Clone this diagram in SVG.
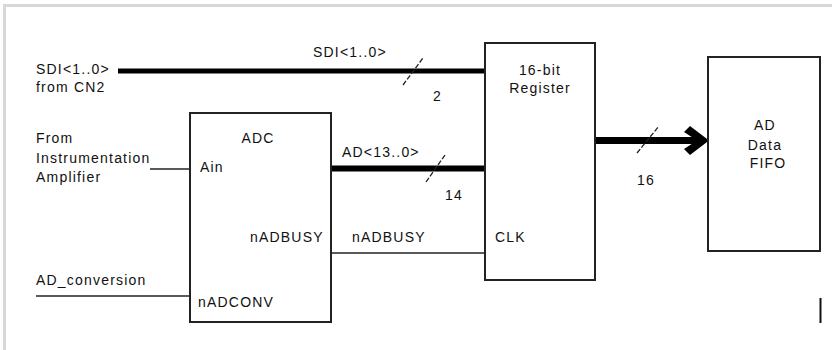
<svg xmlns="http://www.w3.org/2000/svg" width="832" height="350" viewBox="0 0 832 350">
<style>
text{font-family:"Liberation Sans",Arial,sans-serif;font-size:14px;letter-spacing:1.2px;fill:#111}
.c{text-anchor:middle}
.box{fill:#fff;stroke:#222;stroke-width:2}
.w{stroke:#222;stroke-width:1.6;fill:none}
.bus{stroke:#000;fill:none}
.sl{stroke:#222;stroke-width:1.3;stroke-dasharray:5 2;fill:none}
</style>
<rect x="0" y="0" width="832" height="350" fill="#fff"/>
<path d="M4.5 350V5.5H832" fill="none" stroke="#d8d8d8" stroke-width="3"/>
<g id="connectors">
<line class="bus" x1="118" y1="71" x2="485" y2="71" stroke-width="5"/>
<line class="sl" x1="403" y1="85" x2="423" y2="58"/>
<text x="313" y="57">SDI&lt;1..0&gt;</text>
<text x="433" y="101">2</text>
<line class="w" x1="150" y1="169" x2="190" y2="169"/>
<line class="w" x1="36" y1="296" x2="190" y2="296"/>
<line class="bus" x1="331" y1="168.5" x2="485" y2="168.5" stroke-width="6"/>
<line class="sl" x1="426" y1="182" x2="445" y2="155"/>
<text x="342" y="157">AD&lt;13..0&gt;</text>
<text x="445" y="200">14</text>
<line class="w" x1="331" y1="253" x2="485" y2="253"/>
<text x="352" y="242">nADBUSY</text>
<line class="bus" x1="595" y1="140.5" x2="697" y2="140.5" stroke-width="7"/>
<polygon points="684,132 690,126 709,140.5 690,155 684,149 697,140.5" fill="#000"/>
<line class="sl" x1="637" y1="153" x2="659" y2="126"/>
<text x="637" y="185">16</text>
</g>
<g id="inputs">
<text x="36" y="74">SDI&lt;1..0&gt;</text>
<text x="36" y="92">from CN2</text>
<text x="36" y="143">From</text>
<text x="36" y="163">Instrumentation</text>
<text x="36" y="182">Amplifier</text>
<text x="36" y="285">AD_conversion</text>
</g>
<g id="adc">
<rect class="box" x="190" y="113" width="141" height="209"/>
<text class="c" x="258" y="143">ADC</text>
<text x="200" y="172">Ain</text>
<text x="250" y="242">nADBUSY</text>
<text x="198" y="307">nADCONV</text>
</g>
<g id="register">
<rect class="box" x="485" y="43" width="110" height="237"/>
<text class="c" x="540" y="75">16-bit</text>
<text class="c" x="540" y="93">Register</text>
<text x="495" y="242">CLK</text>
</g>
<g id="fifo">
<rect class="box" x="708" y="57" width="112" height="194"/>
<text class="c" x="765" y="130">AD</text>
<text class="c" x="765" y="150">Data</text>
<text class="c" x="768" y="168">FIFO</text>
</g>
<line x1="820.5" y1="298" x2="820.5" y2="323" stroke="#111" stroke-width="2"/>
</svg>
